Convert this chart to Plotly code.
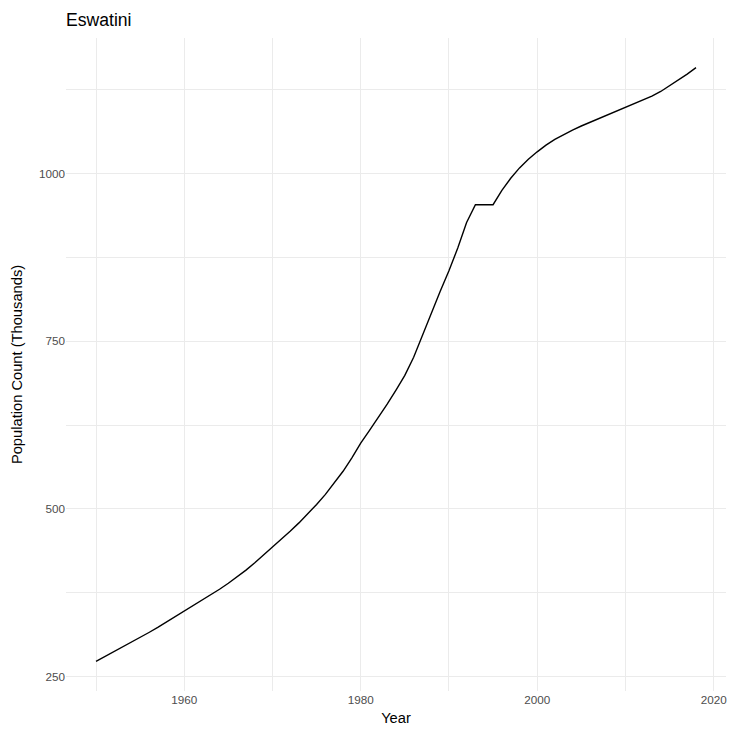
import plotly.graph_objects as go

years = list(range(1950, 2019))
population = [
    272.5, 279.5, 286.5, 293.5, 300.5, 308.0, 315.5, 323.0, 331.0, 339.0,
    347.0, 355.5, 363.5, 371.5, 380.0, 389.0, 398.5, 408.5, 419.5, 431.0,
    443.0, 454.5, 466.5, 479.0, 492.5, 506.5, 521.5, 538.0, 556.0, 576.0,
    598.0, 617.0, 636.0, 656.0, 677.0, 699.0, 726.0, 759.0, 792.0, 824.0,
    855.0, 889.0, 927.0, 953.6, 953.6, 953.6, 975.0, 993.0, 1008.5, 1021.5,
    1032.5, 1042.5, 1051.0, 1058.5, 1065.0, 1071.0, 1076.5, 1082.0, 1087.5, 1093.0,
    1098.0, 1103.5, 1109.0, 1115.5, 1122.5, 1131.0, 1139.5, 1148.5, 1158.0,
]
x_ticks = [1960, 1980, 2000, 2020]
y_ticks = [250, 500, 750, 1000]
title_text = "Eswatini"
x_title = "Year"
y_title = "Population Count (Thousands)"

# ggplot-like 5% expansion
xmin, xmax = min(years), max(years)
ymin, ymax = min(population), max(population)
xpad = (xmax - xmin) * 0.05
ypad = (ymax - ymin) * 0.05

FONT = "Liberation Sans, Arial, sans-serif"

fig = go.Figure()
fig.add_trace(go.Scatter(
    x=years, y=population, mode="lines",
    line=dict(color="black", width=1.4),
    hoverinfo="skip", showlegend=False,
))

grid = "#EBEBEB"
fig.update_layout(
    width=733, height=731,
    plot_bgcolor="white", paper_bgcolor="white",
    margin=dict(l=66, r=7, t=38, b=40, autoexpand=False),
    font=dict(family=FONT),
    title=dict(text=title_text, x=66 / 733, xanchor="left", xref="container",
               y=1 - 20 / 731, yanchor="middle", yref="container",
               font=dict(size=17.6, color="black", family=FONT)),
    xaxis=dict(
        range=[xmin - xpad, xmax + xpad],
        tickvals=x_ticks, ticktext=[str(v) for v in x_ticks],
        showgrid=True, gridcolor=grid, gridwidth=1.1,
        minor=dict(dtick=10, tick0=1950, showgrid=True, gridcolor=grid, gridwidth=0.6),
        zeroline=False, showline=False, ticks="",
        tickfont=dict(size=11.7, color="#4D4D4D", family=FONT),
        title=dict(text=x_title, font=dict(size=14.7, color="black", family=FONT), standoff=8),
    ),
    yaxis=dict(
        range=[ymin - ypad, ymax + ypad],
        tickvals=y_ticks, ticktext=[str(v) for v in y_ticks],
        showgrid=True, gridcolor=grid, gridwidth=1.1,
        minor=dict(dtick=125, tick0=250, showgrid=True, gridcolor=grid, gridwidth=0.6),
        zeroline=False, showline=False, ticks="",
        tickfont=dict(size=11.7, color="#4D4D4D", family=FONT),
        title=dict(text=y_title, font=dict(size=14.7, color="black", family=FONT), standoff=12),
    ),
)

fig.write_html("out.html", config={"displayModeBar": False},
               post_script="document.body.style.margin='0px';")
